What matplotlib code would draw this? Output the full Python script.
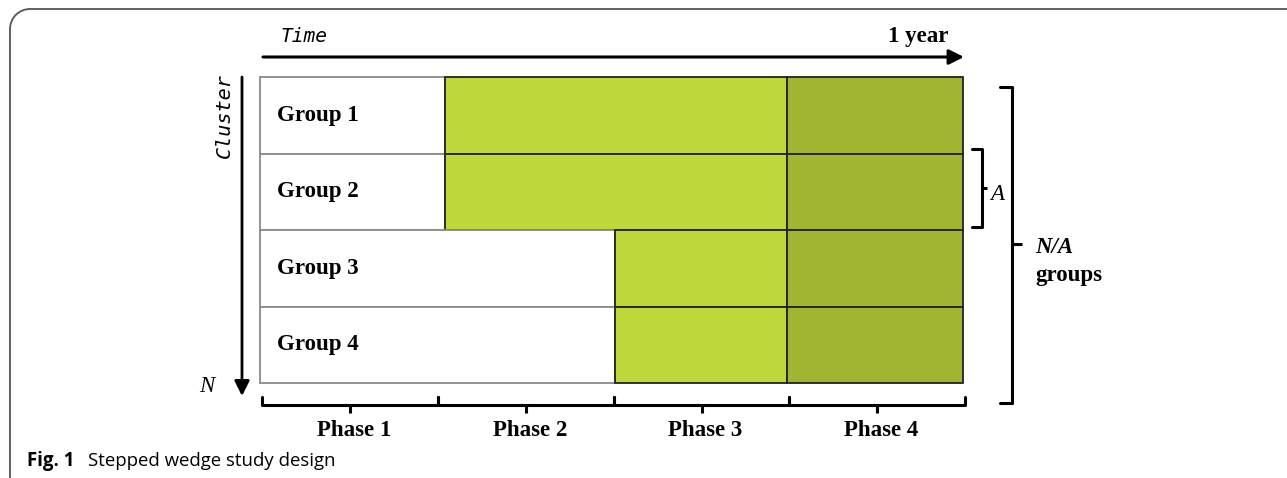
import matplotlib
matplotlib.use('Agg')
import matplotlib.pyplot as plt
from matplotlib.patches import Rectangle, Arc

# study design
groups = ['Group 1', 'Group 2', 'Group 3', 'Group 4']
phases = ['Phase 1', 'Phase 2', 'Phase 3', 'Phase 4']
switch_phase = [1.05, 1.05, 2.02, 2.02]   # phase at which each group starts the intervention
late_phase = 3.0                           # last phase (darker)

light = '#bed73b'
dark = '#a1b532'

fig = plt.figure(figsize=(12.87, 4.78), dpi=100)
ax = fig.add_axes([0, 0, 1, 1])
ax.set_xlim(0, 1287)
ax.set_ylim(478, 0)
ax.axis('off')

# grid in pixel space
x0, x1 = 260, 963
y0, y1 = 77, 383
pw = (x1 - x0) / len(phases)
rh = (y1 - y0) / len(groups)

def px(p):
    return x0 + p * pw

for i, g in enumerate(groups):
    top = y0 + i * rh
    sw = switch_phase[i]
    ax.add_patch(Rectangle((px(0), top), px(sw) - px(0), rh, facecolor='white',
                           edgecolor='#8a8a8a', lw=1.3))
    ax.add_patch(Rectangle((px(sw), top), px(late_phase) - px(sw), rh, facecolor=light,
                           edgecolor='#222222', lw=1.3))
    ax.add_patch(Rectangle((px(late_phase), top), px(4) - px(late_phase), rh, facecolor=dark,
                           edgecolor='#222222', lw=1.3))
    ax.text(277, top + rh / 2, g, fontsize=16.5, fontweight='bold', family='Liberation Serif',
            ha='left', va='center')

# time arrow
ax.annotate('', xy=(964, 57), xytext=(263, 57),
            arrowprops=dict(arrowstyle='-|>,head_length=0.9,head_width=0.45', lw=2.2, color='black',
                            shrinkA=0, shrinkB=0))
ax.text(280, 36, 'Time', fontsize=14, style='italic', family='DejaVu Sans Mono',
        ha='left', va='center')
ax.text(948, 36, '1 year', fontsize=16.5, fontweight='bold', family='Liberation Serif',
        ha='right', va='center')

# cluster arrow
ax.annotate('', xy=(242, 396), xytext=(242, 77),
            arrowprops=dict(arrowstyle='-|>,head_length=0.9,head_width=0.45', lw=2.0, color='black',
                            shrinkA=0, shrinkB=0))
ax.text(224, 116, 'Cluster', fontsize=14.5, style='italic', family='DejaVu Sans Mono',
        rotation=90, ha='center', va='center')
ax.text(207, 386, 'N', fontsize=16.5, style='italic', family='Liberation Serif',
        ha='center', va='center')

# phase brackets
bx = [262, 438, 614, 789, 965]
by_top, by = 397, 405
for i, ph in enumerate(phases):
    a, b = bx[i], bx[i + 1]
    ax.plot([a, a, b, b], [by_top, by, by, by_top], color='black', lw=2.2,
            solid_joinstyle='round', solid_capstyle='round')
    m = (a + b) / 2
    ax.plot([m, m], [by, by + 8], color='black', lw=2.2, solid_capstyle='butt')
    ax.text(m + 4, 431, ph, fontsize=16.5, fontweight='bold', family='Liberation Serif',
            ha='center', va='center')

# right-hand braces
def brace(xl, xr, top, bot, mid, tip):
    ax.plot([xl, xr, xr, xl], [top, top, bot, bot], color='black', lw=2.2,
            solid_joinstyle='round', solid_capstyle='round')
    ax.plot([xr, tip], [mid, mid], color='black', lw=2.2, solid_capstyle='butt')

brace(972, 982, 149, 227, 188, 987)
ax.text(997, 194, 'A', fontsize=16.5, style='italic', family='Liberation Serif',
        ha='center', va='center')
brace(1000, 1012, 87, 403, 244, 1022)
ax.text(1035, 247, 'N/A', fontsize=16.5, style='italic', fontweight='bold',
        family='Liberation Serif', ha='left', va='center')
ax.text(1035, 276, 'groups', fontsize=16.5, fontweight='bold', family='Liberation Serif',
        ha='left', va='center')

# frame with rounded top-left corner
fc = '#555555'
ax.plot([30, 1287], [9, 9], color=fc, lw=1.3)
ax.plot([10, 10], [29, 478], color=fc, lw=1.3)
ax.add_patch(Arc((30, 29), 40, 40, theta1=180, theta2=270, color=fc, lw=1.3))

# caption
ax.text(27, 461, 'Fig. 1', fontsize=13.4, fontweight='bold', family='Open Sans',
        ha='left', va='center')
ax.text(88, 461, 'Stepped wedge study design', fontsize=13.4, family='Open Sans',
        ha='left', va='center')

fig.savefig('out.png', dpi=100)
